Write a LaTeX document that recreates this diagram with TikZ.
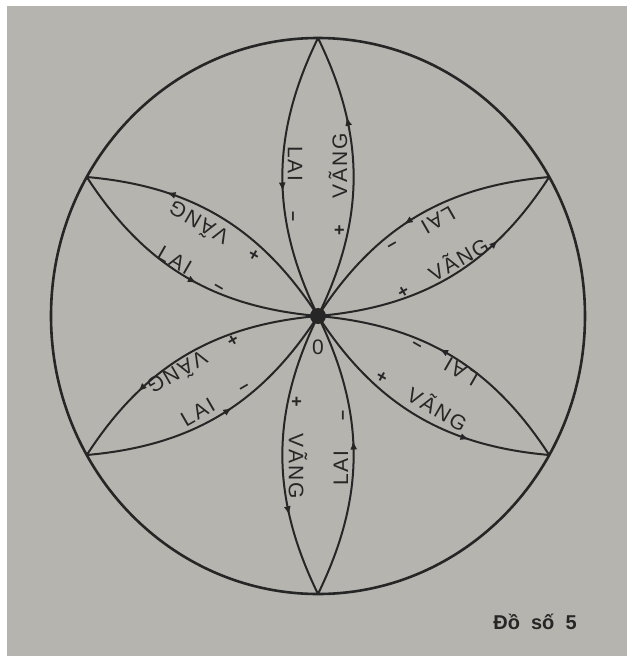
\documentclass[tikz,border=0pt]{standalone}
\usepackage{fontspec}
\setmainfont{Liberation Sans}
\newfontfamily\lblfont[LetterSpace=9]{Liberation Sans}
\usetikzlibrary{arrows.meta,decorations.markings}
\definecolor{ink}{RGB}{38,38,38}
\definecolor{paper}{RGB}{181,180,175}

\begin{document}
\begin{tikzpicture}[x=0.5pt, y=0.5pt,
    line/.style={line width=1pt, draw=ink},
    midarrow/.style={postaction={decorate}, decoration={markings,
      mark=at position #1 with {\arrow[ink]{Latex[length=4.5pt,width=3.5pt]}}}},
    lbl/.style={text=ink, font=\lblfont\fontsize{10.5}{12}\selectfont, inner sep=0pt},
    sign/.style={text=ink, font=\fontsize{9}{10}\selectfont\bfseries, inner sep=0pt}]
  \fill[white] (-318,-344) rectangle (314,316);
  \fill[paper] (-311,-340) rectangle (309,310);
  \useasboundingbox (-318,-344) rectangle (314,316);
  \node[circle, fill=ink, minimum size=8pt, inner sep=0pt] (O) at (0,0) {};
  \node[lbl] (zero) at (0,-31) {0};
  \draw[line, line width=1.3pt] (O.center) ellipse [x radius=267, y radius=278];
  \foreach \a [count=\i] in {90,30,-30,-90,-150,150} {
    \coordinate (t\i) at ({267*cos(\a)},{278*sin(\a)});
    \draw[line, midarrow=0.71] (O.center) to[bend right=26] (t\i);
    \draw[line, midarrow=0.55] (t\i) to[bend right=26] (O.center);
    \begin{scope}[rotate=\a]
      \node[lbl, rotate=\a] (v\i) at (150,-20) {VÃNG};
      \node[lbl, rotate=\a+180] (l\i) at (152,23) {LAI};
      \node[sign, rotate=\a] (p\i) at (86,-22) {+};
      \node[sign, rotate=\a] (m\i) at (100,23) {--};
    \end{scope}
  }
  \node[text=ink, inner sep=0pt, font=\fontsize{10}{11}\selectfont\bfseries] (cap) at (217,-306) {Đồ\ \ số\ \ 5};
\end{tikzpicture}
\end{document}
